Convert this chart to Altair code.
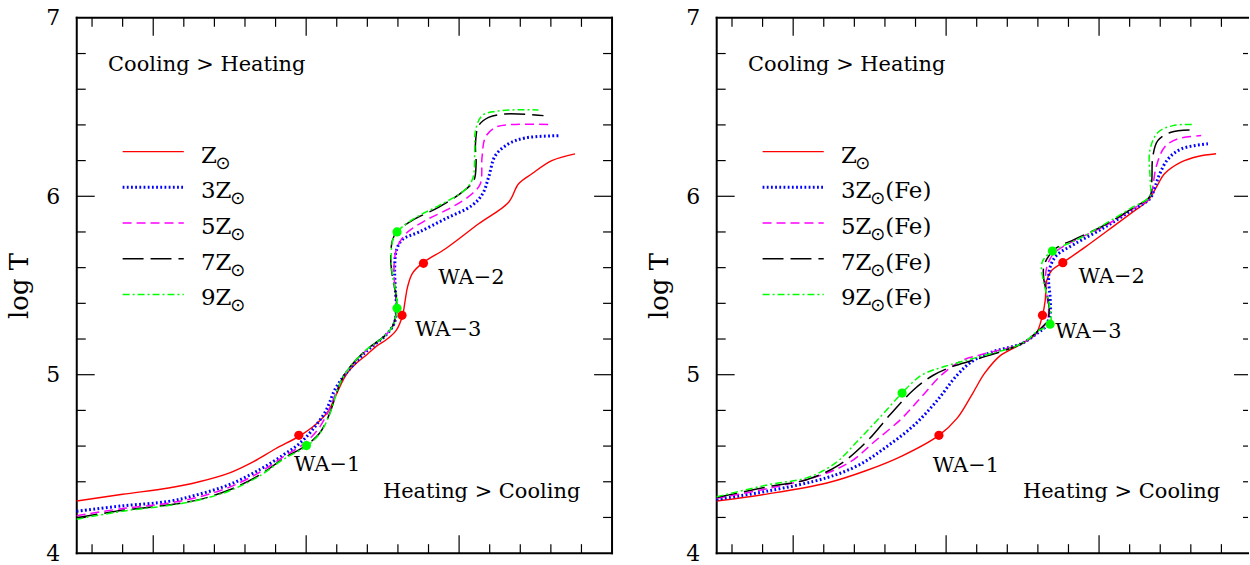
import altair as alt
import pandas as pd

FONT = "DejaVu Serif"

# ---------------- data: left panel (solar abundance ratios) ----------------
L_Z_x = [-0.5, -0.2, 0.1, 0.3, 0.5, 0.65, 0.8, 0.955, 1.06, 1.14, 1.19, 1.23, 1.27, 1.33, 1.40, 1.46, 1.53, 1.59, 1.63, 1.648, 1.663, 1.694, 1.764, 1.911, 2.128, 2.324, 2.389, 2.476, 2.606, 2.758]
L_Z_y = [4.292, 4.33, 4.365, 4.40, 4.45, 4.51, 4.585, 4.656, 4.72, 4.79, 4.875, 4.95, 5.01, 5.065, 5.115, 5.16, 5.2, 5.25, 5.332, 5.42, 5.492, 5.567, 5.628, 5.706, 5.846, 5.967, 6.07, 6.126, 6.2, 6.238]
L_3Z_x = [-0.5, -0.2, 0.1, 0.3, 0.5, 0.7, 0.85, 0.95, 1.04, 1.13, 1.19, 1.26, 1.39, 1.52, 1.575, 1.59, 1.582, 1.579, 1.59, 1.629, 1.737, 1.911, 2.085, 2.154, 2.193, 2.237, 2.324, 2.433, 2.661]
L_3Z_y = [4.235, 4.265, 4.29, 4.33, 4.385, 4.47, 4.55, 4.61, 4.69, 4.80, 4.92, 5.007, 5.128, 5.221, 5.287, 5.361, 5.492, 5.603, 5.697, 5.757, 5.799, 5.874, 5.949, 6.014, 6.107, 6.228, 6.294, 6.327, 6.34]
L_5Z_x = [-0.5, -0.2, 0.1, 0.3, 0.5, 0.7, 0.85, 0.98, 1.07, 1.14, 1.2, 1.255, 1.385, 1.515, 1.572, 1.59, 1.585, 1.575, 1.578, 1.596, 1.651, 1.781, 1.954, 2.085, 2.139, 2.150, 2.172, 2.237, 2.345, 2.606]
L_5Z_y = [4.21, 4.25, 4.28, 4.315, 4.37, 4.455, 4.54, 4.61, 4.685, 4.785, 4.91, 5.005, 5.13, 5.218, 5.284, 5.37, 5.46, 5.55, 5.65, 5.715, 5.79, 5.865, 5.939, 6.014, 6.07, 6.219, 6.331, 6.386, 6.402, 6.402]
L_7Z_x = [-0.5, -0.2, 0.1, 0.3, 0.5, 0.7, 0.85, 1.0, 1.09, 1.15, 1.2, 1.25, 1.38, 1.51, 1.57, 1.59, 1.586, 1.564, 1.553, 1.564, 1.59, 1.694, 1.868, 2.02, 2.096, 2.111, 2.107, 2.128, 2.193, 2.302, 2.552]
L_7Z_y = [4.198, 4.24, 4.27, 4.30, 4.355, 4.44, 4.53, 4.604, 4.675, 4.775, 4.90, 5.0, 5.13, 5.215, 5.28, 5.372, 5.455, 5.548, 5.659, 5.753, 5.799, 5.865, 5.939, 6.023, 6.088, 6.182, 6.294, 6.396, 6.442, 6.461, 6.452]
L_9Z_x = [-0.5, -0.2, 0.1, 0.3, 0.5, 0.7, 0.85, 1.004, 1.09, 1.15, 1.2, 1.25, 1.38, 1.51, 1.57, 1.594, 1.588, 1.566, 1.556, 1.566, 1.594, 1.707, 1.868, 2.033, 2.089, 2.102, 2.107, 2.15, 2.237, 2.345, 2.519]
L_9Z_y = [4.19, 4.235, 4.267, 4.298, 4.35, 4.435, 4.525, 4.6, 4.672, 4.77, 4.9, 5.0, 5.13, 5.215, 5.28, 5.372, 5.455, 5.548, 5.659, 5.753, 5.8, 5.876, 5.948, 6.032, 6.10, 6.256, 6.368, 6.452, 6.476, 6.484, 6.484]
L_dot_x = [0.952, 1.627, 1.767, 1.002, 1.594, 1.594]
L_dot_y = [4.66, 5.333, 5.624, 4.603, 5.372, 5.80]
L_dot_c = ["#ff0000", "#ff0000", "#ff0000", "#00ff00", "#00ff00", "#00ff00"]
L_wa_x = [0.92, 1.863, 1.711]
L_wa_y = [4.495, 5.54, 5.249]

# ---------------- data: right panel (iron-enhanced) ----------------
R_Z_x = [-0.5, -0.165, 0.221, 0.479, 0.71, 0.953, 1.071, 1.174, 1.251, 1.354, 1.483, 1.586, 1.630, 1.648, 1.658, 1.691, 1.763, 1.909, 2.087, 2.217, 2.321, 2.375, 2.428, 2.536, 2.645, 2.765]
R_Z_y = [4.292, 4.332, 4.393, 4.463, 4.544, 4.66, 4.755, 4.896, 5.007, 5.107, 5.168, 5.228, 5.333, 5.417, 5.529, 5.585, 5.628, 5.715, 5.827, 5.910, 5.977, 6.051, 6.126, 6.191, 6.223, 6.238]
R_3Z_x = [-0.5, -0.165, 0.221, 0.427, 0.607, 0.788, 0.942, 1.071, 1.174, 1.303, 1.495, 1.60, 1.648, 1.680, 1.680, 1.670, 1.680, 1.723, 1.843, 2.039, 2.212, 2.332, 2.365, 2.397, 2.452, 2.539, 2.712]
R_3Z_y = [4.302, 4.348, 4.423, 4.493, 4.594, 4.715, 4.856, 4.997, 5.077, 5.128, 5.175, 5.235, 5.268, 5.343, 5.436, 5.529, 5.603, 5.669, 5.734, 5.827, 5.921, 5.986, 6.051, 6.126, 6.210, 6.266, 6.294]
R_5Z_x = [-0.5, -0.165, 0.17, 0.376, 0.53, 0.71, 0.839, 0.968, 1.097, 1.251, 1.495, 1.60, 1.655, 1.670, 1.66, 1.648, 1.665, 1.713, 1.843, 2.039, 2.212, 2.332, 2.351, 2.373, 2.428, 2.515, 2.668]
R_5Z_y = [4.308, 4.362, 4.433, 4.513, 4.624, 4.755, 4.876, 4.997, 5.077, 5.117, 5.175, 5.24, 5.29, 5.343, 5.44, 5.529, 5.622, 5.687, 5.753, 5.835, 5.925, 5.99, 6.051, 6.163, 6.275, 6.322, 6.34]
R_7Z_x = [-0.5, -0.165, 0.092, 0.298, 0.479, 0.633, 0.788, 0.916, 1.045, 1.2, 1.495, 1.60, 1.66, 1.675, 1.66, 1.638, 1.638, 1.660, 1.713, 1.843, 2.039, 2.212, 2.332, 2.345, 2.351, 2.384, 2.470, 2.622]
R_7Z_y = [4.312, 4.372, 4.413, 4.493, 4.624, 4.775, 4.916, 4.997, 5.047, 5.087, 5.175, 5.245, 5.3, 5.36, 5.45, 5.54, 5.603, 5.650, 5.706, 5.76, 5.84, 5.93, 6.0, 6.088, 6.219, 6.312, 6.359, 6.372]
R_9Z_x = [-0.5, -0.165, 0.092, 0.273, 0.427, 0.582, 0.71, 0.839, 0.994, 1.2, 1.495, 1.60, 1.68, 1.675, 1.643, 1.623, 1.64, 1.695, 1.864, 2.039, 2.212, 2.332, 2.335, 2.332, 2.384, 2.482, 2.612]
R_9Z_y = [4.316, 4.383, 4.423, 4.503, 4.634, 4.775, 4.896, 4.997, 5.047, 5.097, 5.175, 5.245, 5.283, 5.389, 5.501, 5.613, 5.65, 5.693, 5.76, 5.845, 5.935, 6.0, 6.077, 6.256, 6.357, 6.396, 6.402]
R_dot_x = [0.953, 1.63, 1.763, 0.712, 1.68, 1.695]
R_dot_y = [4.66, 5.333, 5.628, 4.897, 5.283, 5.693]
R_dot_c = ["#ff0000", "#ff0000", "#ff0000", "#00ff00", "#00ff00", "#00ff00"]
R_wa_x = [0.912, 1.865, 1.713]
R_wa_y = [4.49, 5.548, 5.24]

# ---------------- shared texts, legend, ticks ----------------
wa_labels = ["WA\u22121", "WA\u22122", "WA\u22123"]
series_names = ["Z", "3Z", "5Z", "7Z", "9Z"]
series_colors = ["#ff0000", "#0000ff", "#ff00ff", "#000000", "#00ff00"]
series_dash = [None, [1.8, 2.4], [9, 5], [21, 7], [7, 3, 2, 3]]
series_width = [1.4, 3.0, 1.5, 1.5, 1.5]
legend_y = [6.25, 6.05, 5.85, 5.65, 5.45]
legend_x0, legend_x1, legend_tx = -0.2, 0.2, 0.312
right_suffix = ["", "(Fe)", "(Fe)", "(Fe)", "(Fe)"]
note_text = ["Cooling > Heating", "Heating > Cooling"]
note_x = [-0.295, 1.502]
note_y = [6.737, 4.34]
x_major = [0, 1, 2]
x_minor = [-0.4, -0.2, 0.2, 0.4, 0.6, 0.8, 1.2, 1.4, 1.6, 1.8, 2.2, 2.4, 2.6, 2.8]
y_major = [5, 6]
y_minor = [4.2, 4.4, 4.6, 4.8, 5.2, 5.4, 5.6, 5.8, 6.2, 6.4, 6.6, 6.8]
y_labels = [4, 5, 6, 7]

H = 537
W_FULL = 537           # full panel width for x range -0.5 .. 3.0
W_RIGHT = 533          # right panel is cut by the page edge
MAJ, MIN = 18, 9

ys = alt.Scale(domain=[4, 7], nice=False, zero=False)
yaxis = alt.Axis(values=y_labels, format="d", ticks=False, tickSize=0, domain=False, grid=False,
                 labelFont=FONT, labelFontSize=22, labelColor="black", labelPadding=17,
                 labelFlush=False, title="log T", titleFont=FONT, titleFontSize=26,
                 titleFontWeight="normal", titleColor="black", titlePadding=13)
Y = lambda f: alt.Y(f, type="quantitative", scale=ys, axis=yaxis)
one = pd.DataFrame({"k": [0]})


def panel(curves, dot_x, dot_y, dot_c, wa_x, wa_y, suffixes, w, right_frame, right_cut):
    xs = alt.Scale(domain=[-0.5, -0.5 + 3.5 * w / W_FULL], nice=False, zero=False)
    X = lambda f: alt.X(f, type="quantitative", scale=xs, axis=None)
    layers = []
    # frame
    fr = dict(color="black", strokeWidth=2, strokeCap="square")
    layers.append(alt.Chart(one).mark_rule(**fr).encode(x=alt.value(0), x2=alt.value(w), y=alt.value(0)))
    layers.append(alt.Chart(one).mark_rule(**fr).encode(x=alt.value(0), x2=alt.value(w), y=alt.value(H)))
    layers.append(alt.Chart(one).mark_rule(**fr).encode(x=alt.value(0), y=alt.value(0), y2=alt.value(H)))
    if right_frame:
        layers.append(alt.Chart(one).mark_rule(**fr).encode(x=alt.value(w), y=alt.value(0), y2=alt.value(H)))
    # tick marks pointing inward on all four sides
    for vals, ln in ((x_major, MAJ), (x_minor, MIN)):
        d = pd.DataFrame({"t": vals})
        layers.append(alt.Chart(d).mark_rule(color="black", strokeWidth=1.2).encode(
            x=X("t"), y=alt.value(H), y2=alt.value(H - ln)))
        layers.append(alt.Chart(d).mark_rule(color="black", strokeWidth=1.2).encode(
            x=X("t"), y=alt.value(0), y2=alt.value(ln)))
    for vals, ln in ((y_major, MAJ), (y_minor, MIN)):
        d = pd.DataFrame({"t": vals})
        layers.append(alt.Chart(d).mark_rule(color="black", strokeWidth=1.2).encode(
            y=Y("t"), x=alt.value(0), x2=alt.value(ln)))
        layers.append(alt.Chart(d).mark_rule(color="black", strokeWidth=1.2).encode(
            y=Y("t"), x=alt.value(w), x2=alt.value(w - (ln - right_cut))))
    # curves + legend segments
    for k, name in enumerate(series_names):
        cx, cy = curves[k]
        d = pd.DataFrame({"x": cx, "y": cy, "i": list(range(len(cx)))})
        kw = dict(color=series_colors[k], strokeWidth=series_width[k])
        if series_dash[k] is not None:
            kw["strokeDash"] = series_dash[k]
        layers.append(alt.Chart(d).mark_line(interpolate="catmull-rom", **kw).encode(
            x=X("x"), y=Y("y"), order="i:Q"))
        ld = pd.DataFrame({"x": [legend_x0], "x2": [legend_x1], "y": [legend_y[k]]})
        layers.append(alt.Chart(ld).mark_rule(**kw).encode(x=X("x"), x2="x2", y=Y("y")))
    # legend labels: prefix, subscript sun symbol, suffix
    lab = pd.DataFrame({"x": [legend_tx] * 5, "y": legend_y, "p": series_names,
                        "n": [len(s) for s in series_names], "s": suffixes})
    layers.append(alt.Chart(lab).mark_text(font=FONT, fontSize=23, align="left",
                                           baseline="alphabetic", dy=11, color="black").encode(
        x=X("x"), y=Y("y"), text="p:N"))
    for n, dx in ((1, 14.5), (2, 29.5)):
        layers.append(alt.Chart(lab).transform_filter(alt.datum.n == n).mark_text(
            font="DejaVu Sans", fontSize=18, align="left", baseline="middle", dx=dx, dy=12,
            color="black", text="\u2299").encode(x=X("x"), y=Y("y")))
    layers.append(alt.Chart(lab).transform_filter(alt.datum.s != "").mark_text(
        font=FONT, fontSize=23, align="left", baseline="alphabetic", dx=44.5, dy=11,
        color="black").encode(x=X("x"), y=Y("y"), text="s:N"))
    # region notes and WA labels
    nd = pd.DataFrame({"x": note_x, "y": note_y, "t": note_text})
    layers.append(alt.Chart(nd).mark_text(font=FONT, fontSize=21, align="left",
                                          baseline="middle", color="black").encode(
        x=X("x"), y=Y("y"), text="t:N"))
    wd = pd.DataFrame({"x": wa_x, "y": wa_y, "t": wa_labels})
    layers.append(alt.Chart(wd).mark_text(font=FONT, fontSize=21, align="left",
                                          baseline="middle", color="black").encode(
        x=X("x"), y=Y("y"), text="t:N"))
    # WA markers
    dd = pd.DataFrame({"x": dot_x, "y": dot_y, "c": dot_c})
    layers.append(alt.Chart(dd).mark_point(filled=True, shape="circle", size=85, opacity=1).encode(
        x=X("x"), y=Y("y"), color=alt.Color("c:N", scale=None)))
    return alt.layer(*layers).properties(width=w, height=H)


left = panel([(L_Z_x, L_Z_y), (L_3Z_x, L_3Z_y), (L_5Z_x, L_5Z_y), (L_7Z_x, L_7Z_y), (L_9Z_x, L_9Z_y)],
             L_dot_x, L_dot_y, L_dot_c, L_wa_x, L_wa_y, [""] * 5, W_FULL, True, 0)
right = panel([(R_Z_x, R_Z_y), (R_3Z_x, R_3Z_y), (R_5Z_x, R_5Z_y), (R_7Z_x, R_7Z_y), (R_9Z_x, R_9Z_y)],
              R_dot_x, R_dot_y, R_dot_c, R_wa_x, R_wa_y, right_suffix, W_RIGHT, False, 4)

chart = alt.hconcat(left, right, spacing=32).properties(
    padding={"left": 6, "top": 5, "right": 0, "bottom": 0}, background="white"
).configure_view(stroke="transparent")

chart.save("out.html", embed_options={"renderer": "svg", "actions": False})
